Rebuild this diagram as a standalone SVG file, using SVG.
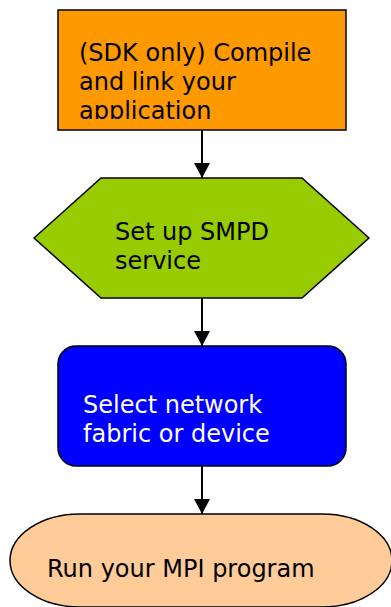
<svg xmlns="http://www.w3.org/2000/svg" width="391" height="607" viewBox="0 0 391 607">
<style>
text{font-family:"DejaVu Sans",Verdana,sans-serif;font-size:24px;fill:#000}
.shape{stroke:#000;stroke-width:1.5}
.conn{stroke:#000;stroke-width:2;fill:none}
</style>
<defs>
<marker id="arr" markerWidth="16" markerHeight="16" refX="15" refY="8" orient="auto" markerUnits="userSpaceOnUse" viewBox="0 0 16 16">
<path d="M0,0 L15,8 L0,16 Z" fill="#000"/>
</marker>
<clipPath id="c1"><rect x="58" y="10" width="288" height="109"/></clipPath>
</defs>
<rect width="391" height="607" fill="#fff"/>
<g id="connectors">
<line class="conn" x1="202" y1="130" x2="202" y2="178" marker-end="url(#arr)"/>
<line class="conn" x1="202" y1="298" x2="202" y2="346" marker-end="url(#arr)"/>
<line class="conn" x1="202" y1="466" x2="202" y2="514" marker-end="url(#arr)"/>
</g>
<g id="compile">
<rect class="shape" x="58" y="10" width="288" height="120" fill="#FF9900"/>
<g clip-path="url(#c1)">
<text x="79" y="61">(SDK only) Compile</text>
<text x="79" y="90">and link your</text>
<text x="79" y="119">application</text>
</g>
</g>
<g id="smpd">
<polygon class="shape" points="34,238 101,178 302,178 369,238 302,298 101,298" fill="#99CC00"/>
<text x="115" y="240">Set up SMPD</text>
<text x="115" y="269">service</text>
</g>
<g id="network">
<rect class="shape" x="58" y="346" width="288" height="120" rx="18" fill="#0000FF"/>
<text x="83" y="413" style="fill:#fff">Select network</text>
<text x="83" y="442" style="fill:#fff">fabric or device</text>
</g>
<g id="run">
<rect class="shape" x="10" y="514" width="382" height="93" rx="70" ry="46.5" fill="#FFCC99"/>
<text x="47" y="577">Run your MPI program</text>
</g>
</svg>
